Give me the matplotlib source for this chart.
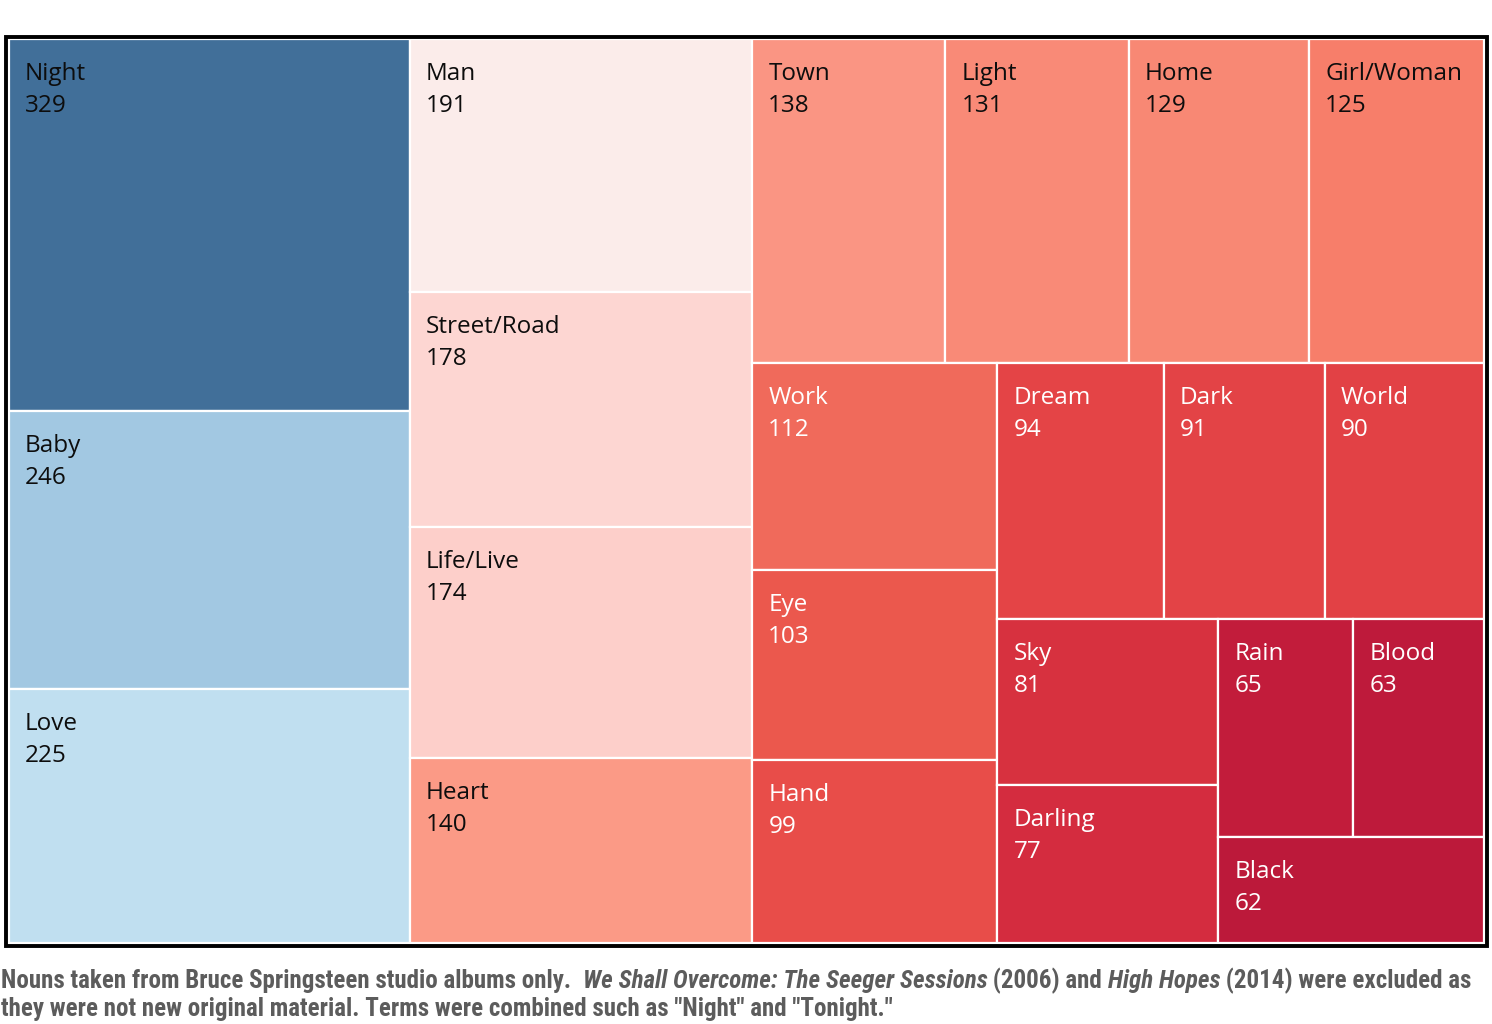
import matplotlib
matplotlib.use("Agg")
import matplotlib.pyplot as plt
from matplotlib.patches import Rectangle
from matplotlib import font_manager
from matplotlib.font_manager import FontProperties

# word counts, sorted largest first
words = ["Night", "Baby", "Love", "Man", "Street/Road", "Life/Live", "Heart",
         "Town", "Light", "Home", "Girl/Woman", "Work", "Eye", "Hand",
         "Dream", "Dark", "World", "Sky", "Darling", "Rain", "Blood", "Black"]
counts = [329, 246, 225, 191, 178, 174, 140,
          138, 131, 129, 125, 112, 103, 99,
          94, 91, 90, 81, 77, 65, 63, 62]
colors = ["#416f99", "#a2c8e2", "#c0dff0", "#fbecea", "#fdd6d2", "#fdcfca", "#fb9a86",
          "#fa9583", "#f98a77", "#f88874", "#f77e6a", "#f06a5b", "#eb584d", "#e84d49",
          "#e44446", "#e34346", "#e24145", "#d7313f", "#d42c3f", "#c21c3b", "#be1a3b", "#bc193a"]
light_text = [False, False, False, False, False, False, False,
              False, False, False, False, True, True, True,
              True, True, True, True, True, True, True, True]

# treemap area in pixels (figure is 1492x1024 at dpi 100)
W, H = 1475.0, 904.0
X0, Y0 = 9.0, 39.0


def treemap(areas, x, y, w, h):
    # strips laid along the shorter side; a strip is closed once its
    # first (largest) cell stops being stretched along the strip
    rects = []
    areas = list(areas)
    while areas:
        side = min(w, h)
        n = 1
        while n < len(areas):
            t = sum(areas[:n]) / side
            if areas[0] / t <= t:
                break
            n += 1
        row = areas[:n]
        s = sum(row)
        if w >= h:
            cw = s / h
            yy = y
            for a in row:
                rh = a / cw
                rects.append((x, yy, cw, rh))
                yy += rh
            x += cw
            w -= cw
        else:
            rh = s / w
            xx = x
            for a in row:
                cw = a / rh
                rects.append((xx, y, cw, rh))
                xx += cw
            y += rh
            h -= rh
        areas = areas[n:]
    return rects


total = sum(counts)
areas = [c * W * H / total for c in counts]
rects = treemap(areas, 0, 0, W, H)

fig = plt.figure(figsize=(14.92, 10.24), dpi=100)
ax = fig.add_axes([X0 / 1492, 1 - (Y0 + H) / 1024, W / 1492, H / 1024])
ax.set_xlim(0, W)
ax.set_ylim(H, 0)
ax.axis("off")

font = "Open Sans"
for (x, y, w, h), name, n, col, lt in zip(rects, words, counts, colors, light_text):
    ax.add_patch(Rectangle((x, y), w, h, facecolor=col, edgecolor="white", linewidth=1.6))
    tc = "white" if lt else "#0d0d0d"
    ax.text(x + 16, y + 41, name, fontsize=17.5, family=font, color=tc, va="baseline", ha="left")
    ax.text(x + 16, y + 73, str(n), fontsize=17.5, family=font, color=tc, va="baseline", ha="left")

# black frame around the treemap
ax.add_patch(Rectangle((-3.5, -2.5), W + 6, H + 5.5, facecolor="none", edgecolor="black",
                       linewidth=2.8, clip_on=False))


# pick a condensed bold face for the caption
def find_font(keys):
    for k in keys:
        for f in font_manager.fontManager.ttflist:
            if k.lower() in f.fname.lower().replace(" ", ""):
                return f.fname
    return None


reg_file = find_font(["RobotoCondensed-Bold.", "RobotoCondensed-Bold", "LiberationSansNarrow-Bold.",
                      "DejaVuSansCondensed-Bold."])
ita_file = find_font(["RobotoCondensed-BoldItalic", "LiberationSansNarrow-BoldItalic",
                      "DejaVuSansCondensed-BoldOblique"])
cap_size = 17.0
if reg_file:
    fp_reg = FontProperties(fname=reg_file, size=cap_size)
else:
    fp_reg = FontProperties(family="DejaVu Sans", weight="bold", size=cap_size)
if ita_file:
    fp_ita = FontProperties(fname=ita_file, size=cap_size)
else:
    fp_ita = FontProperties(family="DejaVu Sans", weight="bold", style="italic", size=cap_size)

cap_col = "#5c5c5c"
parts = [("Nouns taken from Bruce Springsteen studio albums only.  ", False),
         ("We Shall Overcome: The Seeger Sessions", True),
         (" (2006) and ", False),
         ("High Hopes", True),
         (" (2014) were excluded as", False)]
line2 = "they were not new original material. Terms were combined such as \"Night\" and \"Tonight.\""

y1 = 1 - 988 / 1024
y2 = 1 - 1016 / 1024


def draw_caption(size):
    fp_reg.set_size(size)
    fp_ita.set_size(size)
    objs = []
    xpos = 1 / 1492
    for txt, it in parts:
        o = fig.text(xpos, y1, txt, va="baseline", ha="left", color=cap_col,
                     fontproperties=fp_ita if it else fp_reg)
        fig.canvas.draw()
        xpos = o.get_window_extent().x1 / fig.bbox.width
        objs.append(o)
    o = fig.text(1 / 1492, y2, line2, va="baseline", ha="left", color=cap_col, fontproperties=fp_reg)
    objs.append(o)
    return objs, xpos * 1492


# size the caption so the first line ends near the right edge of the frame
objs, right = draw_caption(cap_size)
for o in objs:
    o.remove()
objs, right = draw_caption(cap_size * 1474 / right)

fig.savefig("out.png", dpi=100, facecolor="white")
